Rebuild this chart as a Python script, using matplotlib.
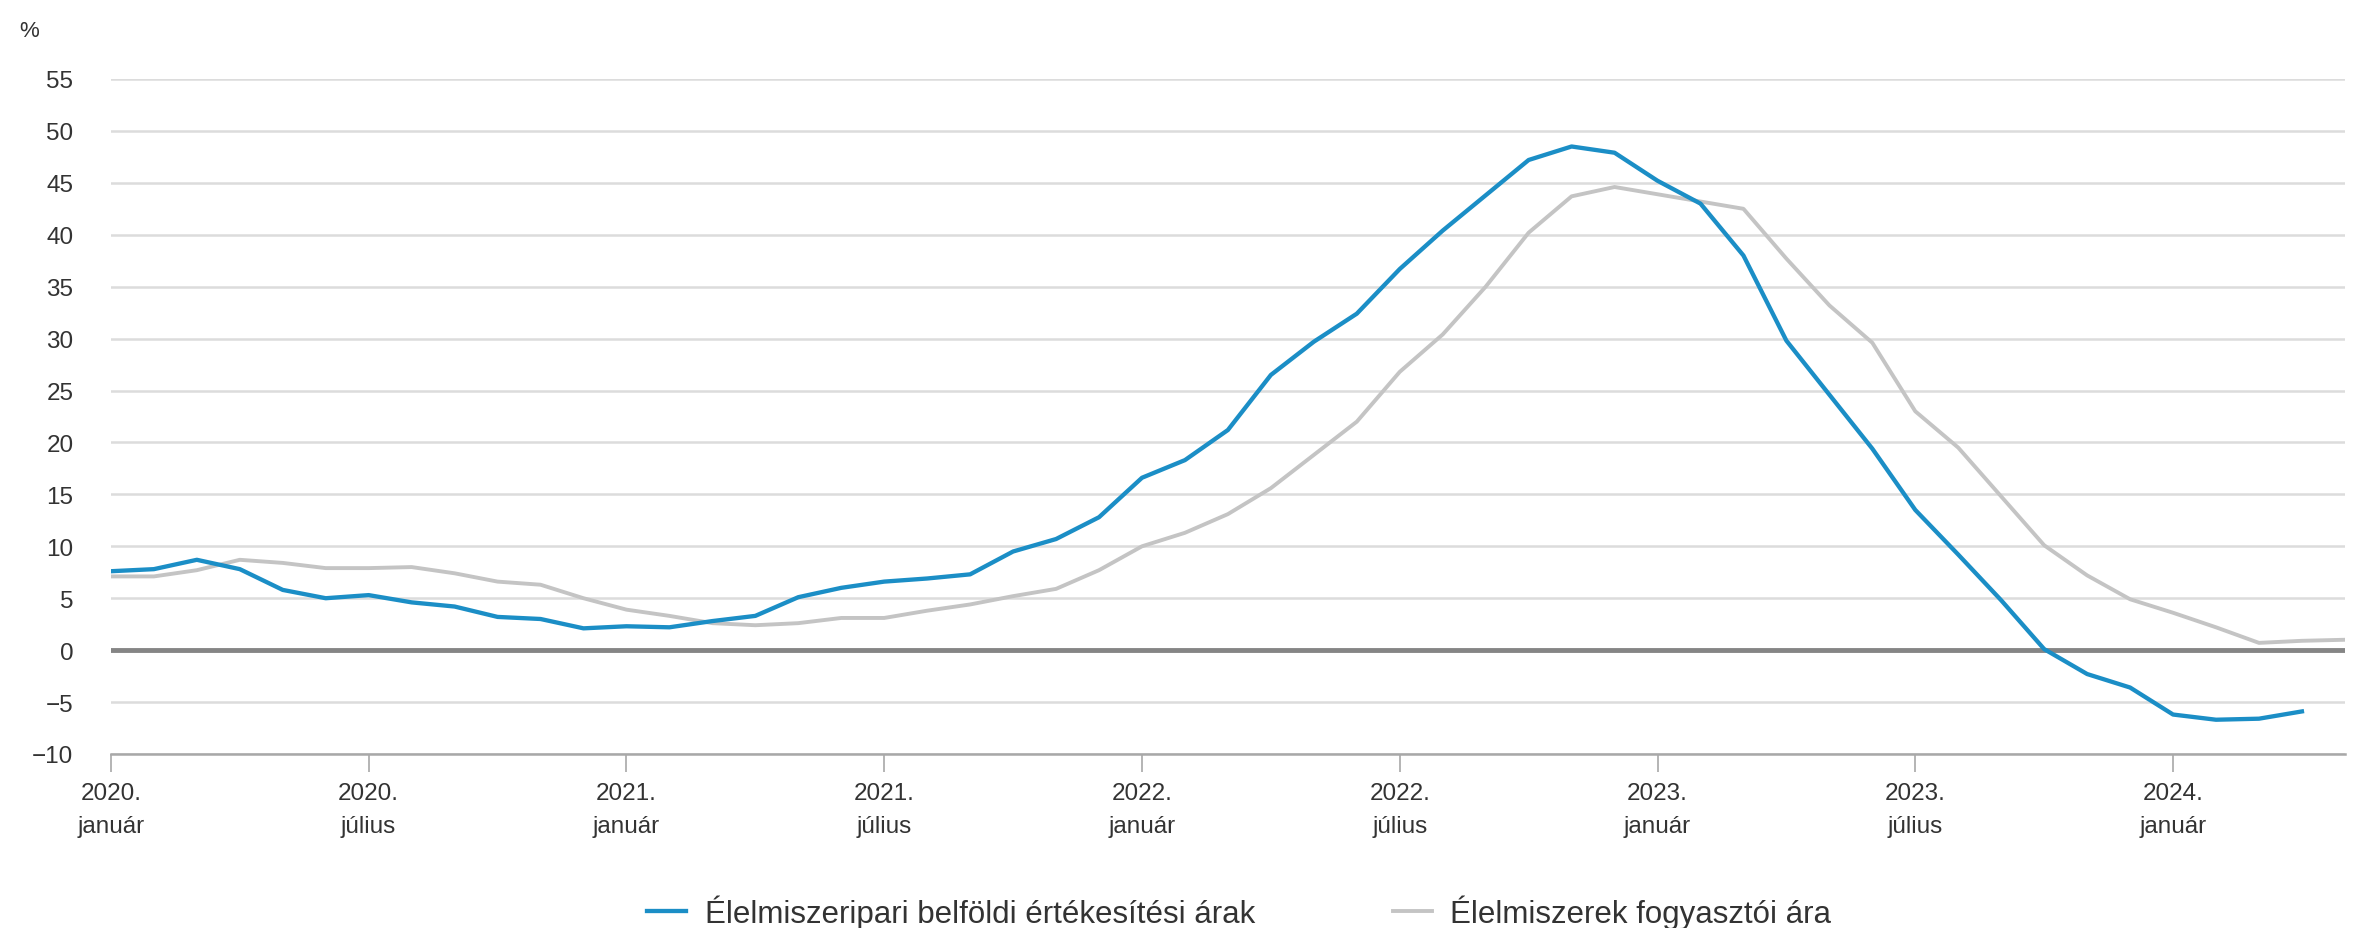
import matplotlib.pyplot as plt
import numpy as np

plt.rcParams['font.family'] = ['Liberation Sans', 'DejaVu Sans']

# monthly values, 2020 January onward (%)
food_industry = [7.6, 7.8, 8.7, 7.8, 5.8, 5.0, 5.3, 4.6, 4.2, 3.2, 3.0, 2.1,
                 2.3, 2.2, 2.8, 3.3, 5.1, 6.0, 6.6, 6.9, 7.3, 9.5, 10.7, 12.8,
                 16.6, 18.3, 21.2, 26.5, 29.7, 32.4, 36.7, 40.4, 43.8, 47.2, 48.5, 47.9,
                 45.2, 43.0, 38.0, 29.8, 24.6, 19.4, 13.5, 9.2, 4.8, 0.1, -2.3, -3.6,
                 -6.2, -6.7, -6.6, -5.9]
consumer = [7.1, 7.1, 7.7, 8.7, 8.4, 7.9, 7.9, 8.0, 7.4, 6.6, 6.3, 5.0,
            3.9, 3.3, 2.6, 2.4, 2.6, 3.1, 3.1, 3.8, 4.4, 5.2, 5.9, 7.7,
            10.0, 11.3, 13.1, 15.6, 18.8, 22.0, 26.8, 30.4, 35.0, 40.2, 43.7, 44.6,
            43.9, 43.2, 42.5, 37.7, 33.2, 29.6, 23.0, 19.5, 14.8, 10.1, 7.2, 4.9,
            3.6, 2.2, 0.7, 0.9, 1.0]

tick_pos = [0, 6, 12, 18, 24, 30, 36, 42, 48]
tick_labels = ['2020.\njanuár', '2020.\njúlius', '2021.\njanuár', '2021.\njúlius',
               '2022.\njanuár', '2022.\njúlius', '2023.\njanuár', '2023.\njúlius',
               '2024.\njanuár']
names = ['Élelmiszeripari belföldi értékesítési árak', 'Élelmiszerek fogyasztói ára']

text_col = '#333333'

fig = plt.figure(figsize=(23.65, 9.29), dpi=100)
ax = fig.add_axes([0.0469, 0.1873, 0.9446, 0.7266])

ax.set_axisbelow(True)
ax.yaxis.grid(True, color='#dcdcdc', linewidth=1.8)
ax.axhline(0, color='#858585', linewidth=3.5, zorder=1.5)

ax.plot(np.arange(len(consumer)), consumer, color='#c4c4c4', linewidth=2.8,
        solid_joinstyle='round', label=names[1], zorder=2)
ax.plot(np.arange(len(food_industry)), food_industry, color='#1b8ec6', linewidth=3.1,
        solid_joinstyle='round', label=names[0], zorder=3)

ax.set_xlim(0, 52)
ax.set_ylim(-10, 55)
ax.set_yticks(range(-10, 56, 5))
ax.set_xticks(tick_pos)
ax.set_xticklabels(tick_labels, linespacing=1.65)

for s in ['top', 'right', 'left']:
    ax.spines[s].set_visible(False)
ax.spines['bottom'].set_color('#a8a8a8')
ax.spines['bottom'].set_linewidth(1.8)

ax.tick_params(axis='y', length=0, pad=27, labelsize=17.5, labelcolor=text_col)
ax.tick_params(axis='x', length=13, width=1.2, color='#a8a8a8', pad=7,
               labelsize=17.5, labelcolor=text_col)

fig.text(0.008, 0.966, '%', fontsize=16, color=text_col, va='center', ha='left')

handles, labels = ax.get_legend_handles_labels()
fig.legend(handles[::-1], labels[::-1], loc='center', bbox_to_anchor=(0.524, 0.018),
           ncol=2, frameon=False, fontsize=22.5, labelcolor=text_col,
           handlelength=1.25, handletextpad=0.6, columnspacing=4.4)

fig.savefig('out.png', dpi=100)
